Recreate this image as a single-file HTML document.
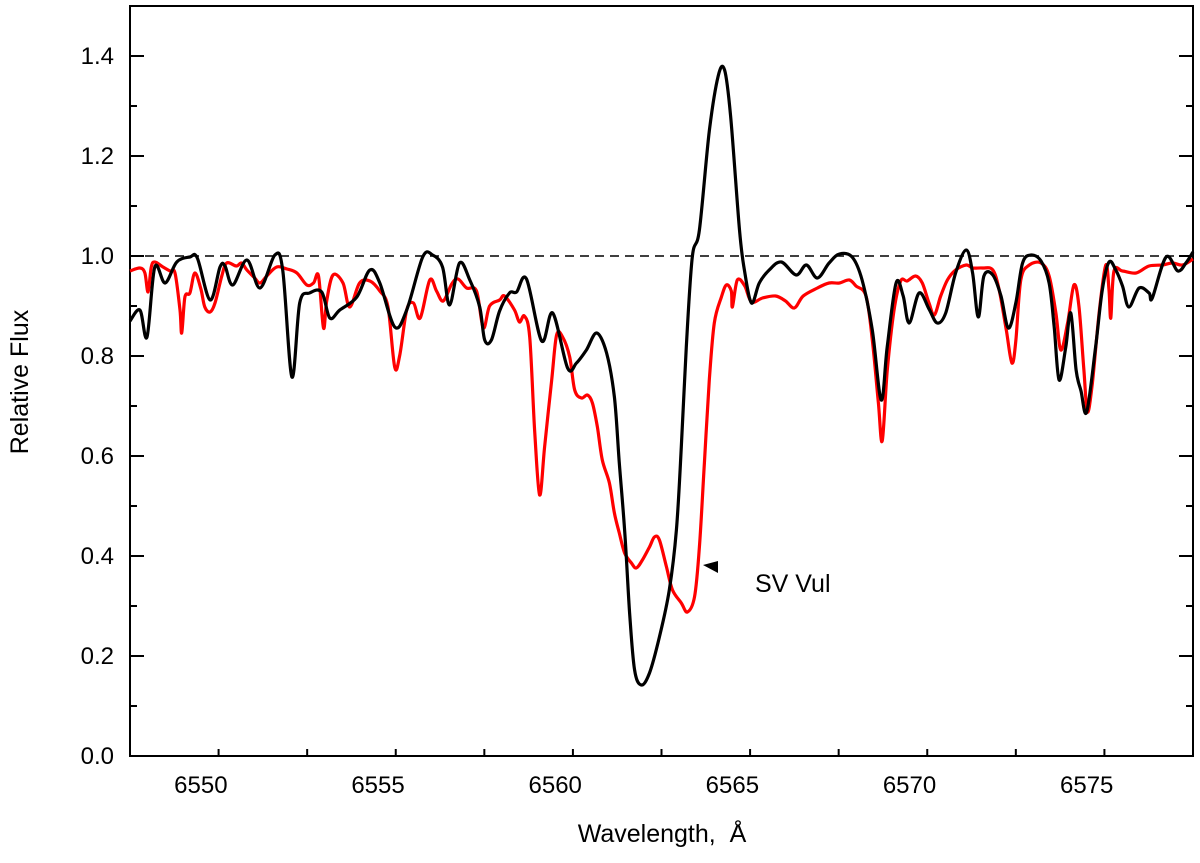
<!DOCTYPE html>
<html><head><meta charset="utf-8"><style>
html,body{margin:0;padding:0;background:#fff;}
svg{display:block;font-family:"Liberation Sans",Arial,sans-serif;}
</style></head><body>
<svg id="chart" width="1200" height="863" viewBox="0 0 1200 863">
<g id="axes"></g>
<g id="series"></g>
<text x="28" y="382" font-size="25" text-anchor="middle" transform="rotate(-90 28 382)">Relative  Flux</text>
<text x="662" y="842" font-size="25" text-anchor="middle" xml:space="preserve">Wavelength,  Å</text>
</svg>
<script>
const xTicks = [6550, 6555, 6560, 6565, 6570, 6575];
const yTicks = [0.0, 0.2, 0.4, 0.6, 0.8, 1.0, 1.2, 1.4];
const blackWl = [6548.0,6548.28,6548.48,6548.7,6548.99,6549.32,6549.69,6549.9,6550.26,6550.54,6550.68,6550.9,6551.3,6551.67,6552.09,6552.31,6552.57,6552.79,6553.07,6553.41,6553.64,6553.92,6554.4,6554.77,6555.05,6555.47,6555.81,6556.26,6556.54,6556.82,6557.02,6557.3,6557.59,6557.87,6558.01,6558.2,6558.43,6558.71,6558.91,6559.19,6559.62,6559.93,6560.35,6560.6,6560.88,6561.17,6561.45,6561.67,6561.81,6561.96,6562.1,6562.24,6562.43,6562.66,6562.94,6563.22,6563.42,6563.56,6563.7,6563.87,6564.07,6564.35,6564.6,6564.78,6564.95,6565.2,6565.34,6565.54,6565.76,6566.04,6566.38,6566.8,6567.09,6567.4,6567.73,6568.02,6568.38,6568.66,6568.95,6569.2,6569.37,6569.62,6569.82,6569.99,6570.27,6570.55,6570.78,6571.02,6571.3,6571.6,6571.78,6571.94,6572.1,6572.35,6572.58,6572.79,6573.0,6573.19,6573.43,6573.71,6573.94,6574.08,6574.22,6574.41,6574.55,6574.7,6574.84,6575.0,6575.25,6575.44,6575.63,6575.82,6576.01,6576.19,6576.48,6576.76,6576.85,6577.24,6577.57,6577.8,6578.0];
const blackFlux = [0.87,0.892,0.838,0.978,0.946,0.988,0.998,0.996,0.912,0.978,0.98,0.942,0.992,0.936,1.002,0.972,0.758,0.906,0.926,0.928,0.876,0.892,0.918,0.972,0.946,0.858,0.892,0.998,1.002,0.978,0.902,0.986,0.952,0.898,0.832,0.832,0.89,0.926,0.928,0.954,0.83,0.886,0.776,0.786,0.812,0.846,0.806,0.718,0.586,0.452,0.286,0.172,0.142,0.166,0.238,0.332,0.452,0.618,0.818,0.998,1.052,1.25,1.36,1.372,1.28,1.052,0.972,0.906,0.946,0.972,0.988,0.962,0.982,0.956,0.986,1.004,0.998,0.952,0.852,0.712,0.818,0.946,0.92,0.866,0.926,0.894,0.866,0.886,0.966,1.012,0.966,0.878,0.96,0.962,0.92,0.856,0.906,0.986,1.002,0.99,0.946,0.86,0.752,0.818,0.886,0.772,0.73,0.688,0.818,0.932,0.988,0.972,0.94,0.898,0.936,0.926,0.916,0.998,0.97,0.986,1.008];
const redWl = [6548.0,6548.28,6548.42,6548.51,6548.6,6548.7,6548.93,6549.13,6549.27,6549.41,6549.46,6549.55,6549.69,6549.83,6550.0,6550.11,6550.26,6550.4,6550.59,6550.73,6551.0,6551.15,6551.3,6551.52,6551.67,6551.86,6552.14,6552.43,6552.71,6552.99,6553.18,6553.32,6553.46,6553.55,6553.73,6554.01,6554.2,6554.48,6554.77,6555.05,6555.28,6555.47,6555.61,6555.81,6556.0,6556.19,6556.46,6556.65,6556.84,6557.08,6557.26,6557.5,6557.78,6557.97,6558.15,6558.43,6558.57,6558.85,6558.99,6559.13,6559.28,6559.42,6559.56,6559.7,6559.9,6560.04,6560.21,6560.41,6560.55,6560.74,6560.91,6561.05,6561.19,6561.33,6561.53,6561.67,6561.81,6561.96,6562.15,6562.29,6562.46,6562.66,6562.8,6562.94,6563.14,6563.31,6563.56,6563.73,6563.93,6564.07,6564.21,6564.35,6564.49,6564.69,6564.83,6564.97,6565.0,6565.14,6565.35,6565.54,6565.85,6566.22,6566.5,6566.75,6567.0,6567.4,6567.73,6568.02,6568.3,6568.49,6568.77,6568.95,6569.12,6569.23,6569.37,6569.56,6569.75,6569.93,6570.17,6570.36,6570.55,6570.7,6570.88,6571.07,6571.3,6571.6,6571.78,6572.06,6572.35,6572.53,6572.73,6572.89,6573.0,6573.14,6573.38,6573.71,6573.94,6574.13,6574.27,6574.46,6574.64,6574.78,6574.92,6575.02,6575.16,6575.35,6575.54,6575.63,6575.68,6575.77,6576.01,6576.39,6576.76,6577.14,6577.42,6577.71,6578.0];
const redFlux = [0.97,0.976,0.966,0.928,0.978,0.988,0.978,0.97,0.966,0.892,0.846,0.918,0.926,0.966,0.934,0.898,0.888,0.906,0.96,0.986,0.98,0.986,0.972,0.956,0.946,0.96,0.978,0.974,0.966,0.942,0.946,0.96,0.856,0.91,0.962,0.946,0.898,0.946,0.95,0.93,0.898,0.778,0.8,0.892,0.906,0.876,0.952,0.93,0.91,0.944,0.954,0.936,0.93,0.856,0.9,0.912,0.92,0.892,0.868,0.88,0.838,0.652,0.522,0.618,0.752,0.842,0.838,0.798,0.732,0.716,0.722,0.706,0.658,0.592,0.546,0.486,0.446,0.406,0.386,0.376,0.392,0.418,0.438,0.432,0.378,0.332,0.306,0.288,0.318,0.418,0.586,0.752,0.866,0.918,0.942,0.93,0.898,0.952,0.94,0.908,0.916,0.92,0.91,0.896,0.92,0.936,0.946,0.946,0.952,0.94,0.92,0.832,0.706,0.63,0.77,0.89,0.95,0.95,0.96,0.946,0.906,0.882,0.92,0.952,0.972,0.982,0.976,0.976,0.972,0.932,0.852,0.786,0.83,0.952,0.982,0.986,0.96,0.886,0.812,0.866,0.942,0.9,0.772,0.688,0.746,0.886,0.982,0.932,0.876,0.97,0.97,0.966,0.98,0.982,0.986,0.982,0.994];

const L=130,R=1193,T=6,B=756, X0=6548,X1=6578,Y0=0,Y1=1.5;
const sx=v=>L+(v-X0)/(X1-X0)*(R-L);
const sy=v=>B-(v-Y0)/(Y1-Y0)*(B-T);
const NS='http://www.w3.org/2000/svg';
const axes=document.getElementById('axes'), series=document.getElementById('series');
function mk(tag,attrs,parent){const e=document.createElementNS(NS,tag);for(const k in attrs)e.setAttribute(k,attrs[k]);parent.appendChild(e);return e;}

const ref=mk('line',{x1:L,x2:R,y1:sy(1),y2:sy(1),stroke:'#000','stroke-width':1.6,'stroke-dasharray':'9,6'},axes);



function path(xs,ys,color,name){
  const P=xs.map((x,i)=>[sx(x),sy(ys[i])]);
  let d='M'+P[0][0].toFixed(1)+','+P[0][1].toFixed(1);
  for(let i=0;i<P.length-1;i++){
    const p0=P[Math.max(0,i-1)],p1=P[i],p2=P[i+1],p3=P[Math.min(P.length-1,i+2)];
    const c1x=p1[0]+(p2[0]-p0[0])/6,c1y=p1[1]+(p2[1]-p0[1])/6;
    const c2x=p2[0]-(p3[0]-p1[0])/6,c2y=p2[1]-(p3[1]-p1[1])/6;
    d+='C'+c1x.toFixed(1)+','+c1y.toFixed(1)+' '+c2x.toFixed(1)+','+c2y.toFixed(1)+' '+p2[0].toFixed(1)+','+p2[1].toFixed(1);
  }
  const p=mk('path',{d:d,fill:'none',stroke:color,'stroke-width':3.2,'stroke-linejoin':'round'},series);
  
  
}
path(redWl,redFlux,'#ff0000','sv-vul-spectrum-line');
path(blackWl,blackFlux,'#000000','comparison-spectrum-line');

const fr=mk('rect',{x:L,y:T,width:R-L,height:B-T,fill:'none',stroke:'#000','stroke-width':2},axes);



for(let v=X0;v<=X1+0.01;v+=2.5){
  const major=xTicks.includes(v);
  const t=mk('line',{x1:sx(v),x2:sx(v),y1:B,y2:B-(major?14:7),stroke:'#000','stroke-width':2},axes);
  
  
}
xTicks.forEach(v=>{
  const t=mk('text',{x:sx(v),y:B+37,'font-size':24,'text-anchor':'middle'},axes);t.textContent=v;
  
  
});
for(let v=0;v<=1.5001;v+=0.1){
  const major=Math.abs(v*5-Math.round(v*5))<1e-6 && v<1.45;
  const t=mk('line',{x1:L,x2:L+(major?14:7),y1:sy(v),y2:sy(v),stroke:'#000','stroke-width':2},axes);
  
  
  const t2=mk('line',{x1:R,x2:R-(major?14:7),y1:sy(v),y2:sy(v),stroke:'#000','stroke-width':2},axes);
  
  
}
yTicks.forEach(v=>{
  const t=mk('text',{x:L-16,y:sy(v)+8,'font-size':24,'text-anchor':'end'},axes);t.textContent=v.toFixed(1);
  
  
});
const arr=mk('polygon',{points:'703,565 718,561 718,573',fill:'#000'},axes);


const lab=mk('text',{x:755,y:592,'font-size':25},axes);lab.textContent='SV Vul';


</script>
</body></html>
